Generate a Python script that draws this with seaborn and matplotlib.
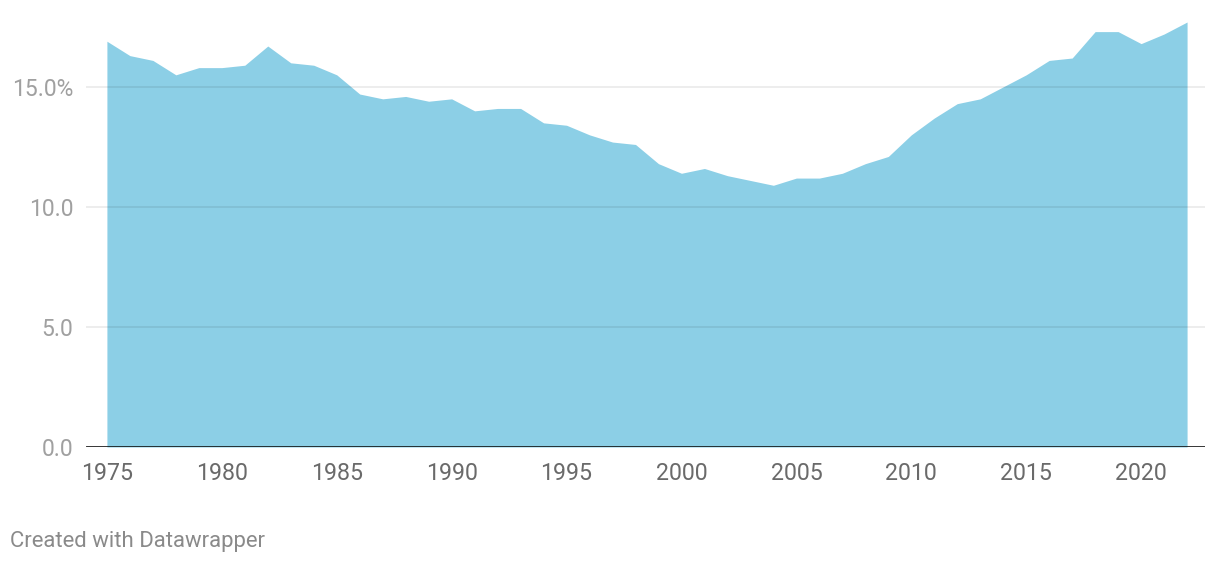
import numpy as np
import pandas as pd
import matplotlib
matplotlib.use("Agg")
import matplotlib.pyplot as plt
import seaborn as sns
from matplotlib.ticker import FuncFormatter

years = list(range(1975, 2023))
values = [16.9, 16.3, 16.1, 15.5, 15.8, 15.8, 15.9, 16.7, 16.0, 15.9,
          15.5, 14.7, 14.5, 14.6, 14.4, 14.5, 14.0, 14.1, 14.1, 13.5,
          13.4, 13.0, 12.7, 12.6, 11.8, 11.4, 11.6, 11.3, 11.1, 10.9,
          11.2, 11.2, 11.4, 11.8, 12.1, 13.0, 13.7, 14.3, 14.5, 15.0,
          15.5, 16.1, 16.2, 17.3, 17.3, 16.8, 17.2, 17.7]
y_ticks = [0, 5, 10, 15]
x_ticks = [1975, 1980, 1985, 1990, 1995, 2000, 2005, 2010, 2015, 2020]

df = pd.DataFrame({"year": years, "value": values})

sns.set_theme(style="white")
plt.rcParams["font.family"] = ["Roboto", "DejaVu Sans"]

fig = plt.figure(figsize=(12.2, 5.64), dpi=100)
ax = fig.add_axes([86/1220, 1 - 447/564, (1205 - 86)/1220, (447 - 10)/564])

fill_color = "#8ccfe6"
sns.lineplot(data=df, x="year", y="value", ax=ax, color=fill_color, linewidth=0)
ax.fill_between(df["year"], 0, df["value"], color=fill_color, linewidth=0, zorder=1)

ax.set_xlim(1974.09, 2022.78)
ax.set_ylim(0, 18.2)
ax.set_yticks(y_ticks)
ax.set_xticks(x_ticks)
ax.yaxis.set_major_formatter(FuncFormatter(lambda v, p: f"{v:.1f}%" if v == 15 else f"{v:.1f}"))

for t in y_ticks[1:]:
    ax.axhline(t, color="#000000", alpha=0.09, linewidth=1.1, zorder=3)
ax.axhline(0, color="#111111", linewidth=1.9, zorder=4)

ax.tick_params(axis="y", length=0, pad=9, labelsize=16.5, labelcolor="#a0a0a0")
ax.tick_params(axis="x", length=0, pad=11, labelsize=16.7, labelcolor="#6a6a6a")
ax.set_xlabel("")
ax.set_ylabel("")
for s in ax.spines.values():
    s.set_visible(False)
ax.grid(False)

fig.text(10/1220, 1 - 541/564, "Created with Datawrapper", fontsize=15.9,
         color="#8a8a8a", va="center", ha="left")

fig.savefig("out.png", dpi=100)
